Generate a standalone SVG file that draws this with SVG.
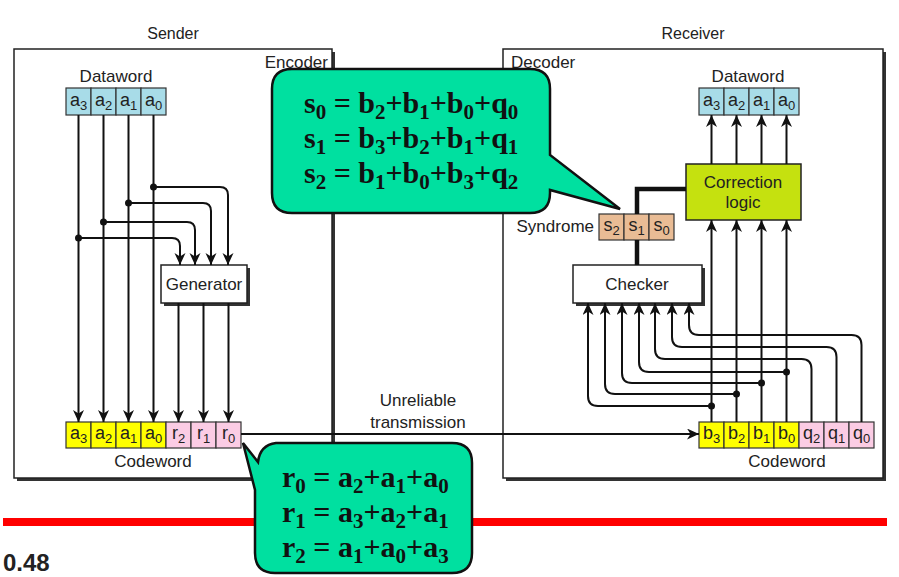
<svg xmlns="http://www.w3.org/2000/svg" width="899" height="577" viewBox="0 0 899 577">
<defs>
<marker id="ah" markerUnits="userSpaceOnUse" markerWidth="13" markerHeight="12" refX="12" refY="5.5" orient="auto">
<path d="M0,0 L12,5.5 L0,11 L3.5,5.5 Z" fill="#111"/>
</marker>
<style>
.t{font-family:"Liberation Sans",Arial,sans-serif;font-size:17px;fill:#222}
.c{font-family:"Liberation Sans",Arial,sans-serif;font-size:17px;fill:#222;text-anchor:middle}
.h{font-size:16px}
.v{font-family:"Liberation Sans",Arial,sans-serif;font-size:18px;fill:#222;text-anchor:middle}
.sub{font-size:13px}
.box{fill:#fff;stroke:#222;stroke-width:1.5}
.sh{fill:#333}
.cell{stroke:#333;stroke-width:1.2}
.blue{fill:#a8dce8}
.yel{fill:#ffff00}
.pink{fill:#fbcce4}
.tan{fill:#e9bc95}
.wa{fill:none;stroke:#111;stroke-width:2;marker-end:url(#ah)}
.dot{fill:#111}
.eq{font-family:"Liberation Serif","Times New Roman",serif;font-weight:bold;font-size:30px;fill:#111}
.es{font-size:21px}
.call{fill:#00e0a0;stroke:#111;stroke-width:2.5}
</style>
</defs>

<g id="sender">
<rect class="sh" x="17" y="52" width="318" height="429"/>
<rect class="box" x="14" y="49" width="318" height="429"/>
<text class="c h" x="173" y="39">Sender</text>
<text class="t" x="328" y="68" text-anchor="end">Encoder</text>
</g>

<g id="receiver">
<rect class="sh" x="506" y="52" width="380" height="429"/>
<rect class="box" x="503" y="49" width="380" height="429"/>
<text class="c h" x="693" y="39">Receiver</text>
<text class="t" x="511" y="68">Decoder</text>
</g>

<g id="sender-dataword">
<text class="c" x="116" y="82">Dataword</text>
<rect class="cell blue" x="66" y="88" width="25" height="27"/>
<rect class="cell blue" x="91" y="88" width="25" height="27"/>
<rect class="cell blue" x="116" y="88" width="25" height="27"/>
<rect class="cell blue" x="141" y="88" width="25" height="27"/>
<text class="v" x="78.5" y="106">a<tspan class="sub" dy="4">3</tspan></text>
<text class="v" x="103.5" y="106">a<tspan class="sub" dy="4">2</tspan></text>
<text class="v" x="128.5" y="106">a<tspan class="sub" dy="4">1</tspan></text>
<text class="v" x="153.5" y="106">a<tspan class="sub" dy="4">0</tspan></text>
</g>

<g id="generator">
<rect class="sh" x="164" y="268" width="86" height="38"/>
<rect class="box" x="161" y="265" width="86" height="38"/>
<text class="c" x="204" y="290">Generator</text>
</g>

<g id="sender-codeword">
<rect class="cell yel" x="66" y="422" width="25" height="26"/>
<rect class="cell yel" x="91" y="422" width="25" height="26"/>
<rect class="cell yel" x="116" y="422" width="25" height="26"/>
<rect class="cell yel" x="141" y="422" width="25" height="26"/>
<rect class="cell pink" x="166" y="422" width="25" height="26"/>
<rect class="cell pink" x="191" y="422" width="25" height="26"/>
<rect class="cell pink" x="216" y="422" width="25" height="26"/>
<text class="v" x="78.5" y="439">a<tspan class="sub" dy="4">3</tspan></text>
<text class="v" x="103.5" y="439">a<tspan class="sub" dy="4">2</tspan></text>
<text class="v" x="128.5" y="439">a<tspan class="sub" dy="4">1</tspan></text>
<text class="v" x="153.5" y="439">a<tspan class="sub" dy="4">0</tspan></text>
<text class="v" x="178.5" y="439">r<tspan class="sub" dy="4">2</tspan></text>
<text class="v" x="203.5" y="439">r<tspan class="sub" dy="4">1</tspan></text>
<text class="v" x="228.5" y="439">r<tspan class="sub" dy="4">0</tspan></text>
<text class="c" x="153" y="467">Codeword</text>
</g>

<g id="receiver-dataword">
<text class="c" x="748" y="82">Dataword</text>
<rect class="cell blue" x="699" y="88" width="25" height="27"/>
<rect class="cell blue" x="724" y="88" width="25" height="27"/>
<rect class="cell blue" x="749" y="88" width="25" height="27"/>
<rect class="cell blue" x="774" y="88" width="25" height="27"/>
<text class="v" x="711.5" y="106">a<tspan class="sub" dy="4">3</tspan></text>
<text class="v" x="736.5" y="106">a<tspan class="sub" dy="4">2</tspan></text>
<text class="v" x="761.5" y="106">a<tspan class="sub" dy="4">1</tspan></text>
<text class="v" x="786.5" y="106">a<tspan class="sub" dy="4">0</tspan></text>
</g>

<g id="correction-logic">
<rect x="686" y="164" width="115" height="56" fill="#c5e10f" stroke="#222" stroke-width="1.5"/>
<text class="c" x="743" y="188">Correction</text>
<text class="c" x="743" y="208">logic</text>
</g>

<g id="syndrome">
<text class="t" x="594" y="232" text-anchor="end">Syndrome</text>
<rect class="cell tan" x="599" y="214" width="25" height="26"/>
<rect class="cell tan" x="624" y="214" width="25" height="26"/>
<rect class="cell tan" x="649" y="214" width="25" height="26"/>
<text class="v" x="611.5" y="231">s<tspan class="sub" dy="4">2</tspan></text>
<text class="v" x="636.5" y="231">s<tspan class="sub" dy="4">1</tspan></text>
<text class="v" x="661.5" y="231">s<tspan class="sub" dy="4">0</tspan></text>
</g>

<g id="checker">
<rect class="sh" x="576" y="268" width="129" height="38"/>
<rect class="box" x="573" y="265" width="129" height="38"/>
<text class="c" x="637" y="290">Checker</text>
</g>

<g id="receiver-codeword">
<rect class="cell yel" x="699" y="422" width="25" height="26"/>
<rect class="cell yel" x="724" y="422" width="25" height="26"/>
<rect class="cell yel" x="749" y="422" width="25" height="26"/>
<rect class="cell yel" x="774" y="422" width="25" height="26"/>
<rect class="cell pink" x="799" y="422" width="25" height="26"/>
<rect class="cell pink" x="824" y="422" width="25" height="26"/>
<rect class="cell pink" x="849" y="422" width="25" height="26"/>
<text class="v" x="711.5" y="439">b<tspan class="sub" dy="4">3</tspan></text>
<text class="v" x="736.5" y="439">b<tspan class="sub" dy="4">2</tspan></text>
<text class="v" x="761.5" y="439">b<tspan class="sub" dy="4">1</tspan></text>
<text class="v" x="786.5" y="439">b<tspan class="sub" dy="4">0</tspan></text>
<text class="v" x="811.5" y="439">q<tspan class="sub" dy="4">2</tspan></text>
<text class="v" x="836.5" y="439">q<tspan class="sub" dy="4">1</tspan></text>
<text class="v" x="861.5" y="439">q<tspan class="sub" dy="4">0</tspan></text>
<text class="c" x="787" y="467">Codeword</text>
</g>

<g id="connectors">
<path class="wa" d="M78.5,115 V422"/>
<path class="wa" d="M103.5,115 V422"/>
<path class="wa" d="M128.5,115 V422"/>
<path class="wa" d="M153.5,115 V422"/>
<path class="wa" d="M153.5,187 H220 Q228,187 228,195 V265"/>
<path class="wa" d="M128.5,203 H203 Q211,203 211,211 V265"/>
<path class="wa" d="M103.5,222 H187 Q195,222 195,230 V265"/>
<path class="wa" d="M78.5,238 H172 Q180,238 180,246 V265"/>
<circle class="dot" cx="153.5" cy="187" r="3.5"/>
<circle class="dot" cx="128.5" cy="203" r="3.5"/>
<circle class="dot" cx="103.5" cy="222" r="3.5"/>
<circle class="dot" cx="78.5" cy="238" r="3.5"/>
<path class="wa" d="M178.5,303 V422"/>
<path class="wa" d="M203.5,303 V422"/>
<path class="wa" d="M228.5,303 V422"/>
<path class="wa" d="M241,434 H699"/>
<text class="c" x="418" y="406">Unreliable</text>
<text class="c" x="418" y="428">transmission</text>
<path class="wa" d="M711.5,164 V115"/>
<path class="wa" d="M736.5,164 V115"/>
<path class="wa" d="M761.5,164 V115"/>
<path class="wa" d="M786.5,164 V115"/>
<path class="wa" d="M711.5,422 V220"/>
<path class="wa" d="M736.5,422 V220"/>
<path class="wa" d="M761.5,422 V220"/>
<path class="wa" d="M786.5,422 V220"/>
<path class="wa" d="M711.5,406 H598 Q588,406 588,396 V303"/>
<path class="wa" d="M736.5,394 H615 Q605,394 605,384 V303"/>
<path class="wa" d="M761.5,383 H632 Q622,383 622,373 V303"/>
<path class="wa" d="M786.5,372 H649 Q639,372 639,362 V303"/>
<path class="wa" d="M811.5,422 V369 Q811.5,359 801.5,359 H665 Q655,359 655,349 V303"/>
<path class="wa" d="M836.5,422 V357 Q836.5,347 826.5,347 H682 Q672,347 672,337 V303"/>
<path class="wa" d="M861.5,422 V345 Q861.5,335 851.5,335 H699 Q689,335 689,325 V303"/>
<circle class="dot" cx="711.5" cy="406" r="3.5"/>
<circle class="dot" cx="736.5" cy="394" r="3.5"/>
<circle class="dot" cx="761.5" cy="383" r="3.5"/>
<circle class="dot" cx="786.5" cy="372" r="3.5"/>
<path d="M637,214 V189 H686" fill="none" stroke="#111" stroke-width="4.5"/>
<path d="M637,240 V265" fill="none" stroke="#111" stroke-width="4.5"/>
</g>

<rect id="red-line" x="3" y="518" width="884" height="8" fill="#ff0000"/>

<g id="callout-syndrome">
<path class="call" d="M292,69 H530 Q550,69 550,89 V155 L620,209 L550,190 V193 Q550,213 530,213 H292 Q272,213 272,193 V89 Q272,69 292,69 Z"/>
<text class="eq" x="304" y="113">s<tspan class="es" dy="6">0</tspan><tspan dy="-6"> = b</tspan><tspan class="es" dy="6">2</tspan><tspan dy="-6">+b</tspan><tspan class="es" dy="6">1</tspan><tspan dy="-6">+b</tspan><tspan class="es" dy="6">0</tspan><tspan dy="-6">+q</tspan><tspan class="es" dy="6">0</tspan></text>
<text class="eq" x="304" y="148">s<tspan class="es" dy="6">1</tspan><tspan dy="-6"> = b</tspan><tspan class="es" dy="6">3</tspan><tspan dy="-6">+b</tspan><tspan class="es" dy="6">2</tspan><tspan dy="-6">+b</tspan><tspan class="es" dy="6">1</tspan><tspan dy="-6">+q</tspan><tspan class="es" dy="6">1</tspan></text>
<text class="eq" x="304" y="183">s<tspan class="es" dy="6">2</tspan><tspan dy="-6"> = b</tspan><tspan class="es" dy="6">1</tspan><tspan dy="-6">+b</tspan><tspan class="es" dy="6">0</tspan><tspan dy="-6">+b</tspan><tspan class="es" dy="6">3</tspan><tspan dy="-6">+q</tspan><tspan class="es" dy="6">2</tspan></text>
</g>

<g id="callout-redundancy">
<path class="call" d="M243,443 L258,462 Q260,445 276,443 H452 Q472,443 472,463 V553 Q472,573 452,573 H275 Q255,573 255,553 V490 Z"/>
<text class="eq" x="282" y="487">r<tspan class="es" dy="6">0</tspan><tspan dy="-6"> = a</tspan><tspan class="es" dy="6">2</tspan><tspan dy="-6">+a</tspan><tspan class="es" dy="6">1</tspan><tspan dy="-6">+a</tspan><tspan class="es" dy="6">0</tspan></text>
<text class="eq" x="282" y="522">r<tspan class="es" dy="6">1</tspan><tspan dy="-6"> = a</tspan><tspan class="es" dy="6">3</tspan><tspan dy="-6">+a</tspan><tspan class="es" dy="6">2</tspan><tspan dy="-6">+a</tspan><tspan class="es" dy="6">1</tspan></text>
<text class="eq" x="282" y="557">r<tspan class="es" dy="6">2</tspan><tspan dy="-6"> = a</tspan><tspan class="es" dy="6">1</tspan><tspan dy="-6">+a</tspan><tspan class="es" dy="6">0</tspan><tspan dy="-6">+a</tspan><tspan class="es" dy="6">3</tspan></text>
</g>

<text x="3" y="571" font-family="Liberation Sans,Arial,sans-serif" font-weight="bold" font-size="24" fill="#222">0.48</text>
</svg>
